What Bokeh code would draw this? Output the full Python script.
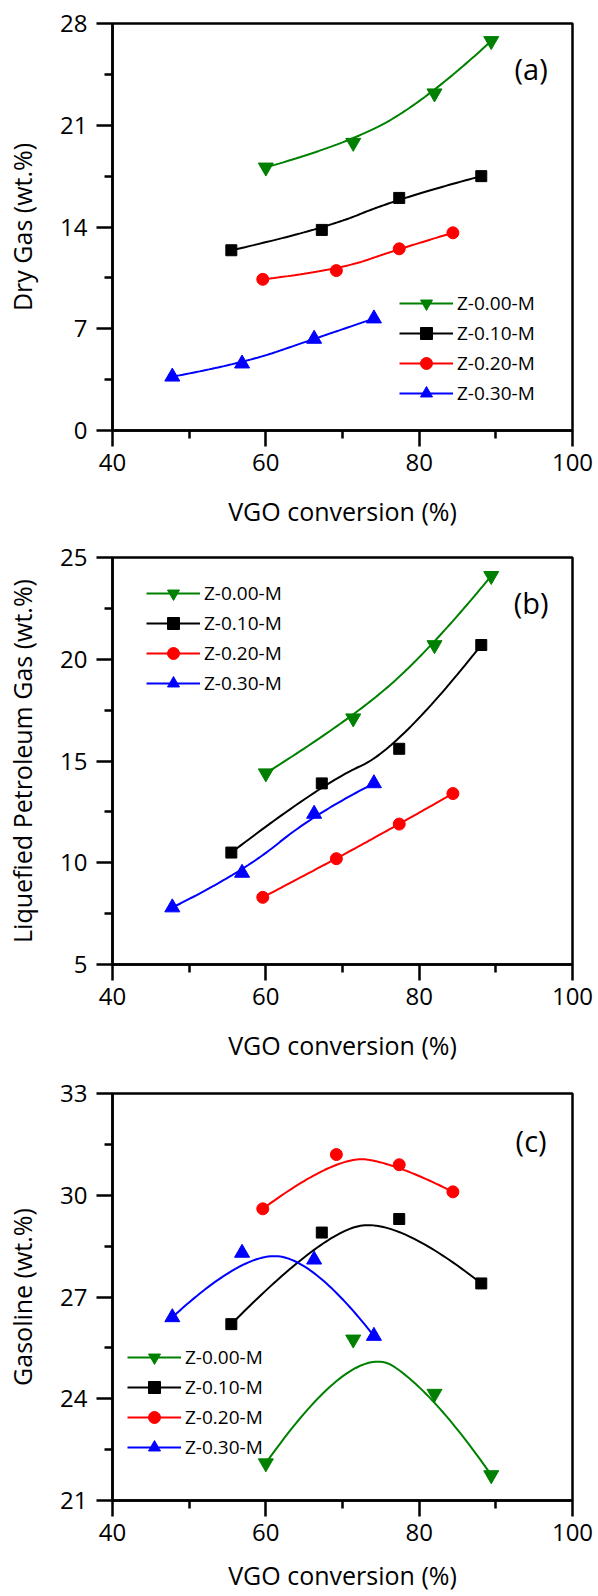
import numpy as np
from bokeh.plotting import figure
from bokeh.models import Range1d, FixedTicker, Legend, LegendItem, Label
from bokeh.layouts import column
from bokeh.embed import file_html
from bokeh.resources import INLINE

# ---------------- data ----------------
series_names = ["Z-0.00-M", "Z-0.10-M", "Z-0.20-M", "Z-0.30-M"]

conv_000 = [60.0, 71.4, 82.0, 89.4]
conv_010 = [55.5, 67.3, 77.4, 88.1]
conv_020 = [59.6, 69.2, 77.4, 84.4]
conv_030 = [47.8, 56.9, 66.3, 74.1]

drygas_000 = [18.1, 19.8, 23.2, 26.8]
drygas_010 = [12.4, 13.8, 16.0, 17.5]
drygas_020 = [10.4, 11.0, 12.5, 13.6]
drygas_030 = [3.7, 4.6, 6.3, 7.7]

lpg_000 = [14.4, 17.1, 20.7, 24.1]
lpg_010 = [10.5, 13.9, 15.6, 20.7]
lpg_020 = [8.3, 10.2, 11.9, 13.4]
lpg_030 = [7.8, 9.5, 12.4, 13.9]

gasoline_000 = [22.1, 25.75, 24.15, 21.75]
gasoline_010 = [26.2, 28.9, 29.3, 27.4]
gasoline_020 = [29.6, 31.2, 30.9, 30.1]
gasoline_030 = [26.4, 28.3, 28.1, 25.85]

x_ticks = [40, 60, 80, 100]
x_minor = [50, 70, 90]
drygas_ticks = [0, 7, 14, 21, 28]
lpg_ticks = [5, 10, 15, 20, 25]
gasoline_ticks = [21, 24, 27, 30, 33]

# ---------------- styles ----------------
colors = ["#008000", "#000000", "#ff0000", "#0000ff"]
markers = ["inverted_triangle", "square", "circle", "triangle"]
msizes = [15, 11, 12, 15]
FONT = "Open Sans"


def bspline2(x, y, n=40):
    """Quadratic clamped B-spline using the data points as control points."""
    P = np.column_stack([x, y]).astype(float)
    k = len(P)
    t = np.linspace(0, 1, n)[:, None]
    parts = []
    for i in range(k - 2):
        a = P[0] if i == 0 else (P[i] + P[i + 1]) / 2
        c = P[k - 1] if i == k - 3 else (P[i + 1] + P[i + 2]) / 2
        b = P[i + 1]
        parts.append((1 - t) ** 2 * a + 2 * t * (1 - t) * b + t ** 2 * c)
    pts = np.vstack(parts)
    return pts[:, 0], pts[:, 1]


def make_panel(ylabel, yticks, xs_list, ys_list, legend_loc, tag, tag_y,
               border_top, border_bottom, xlabel_standoff):
    yr = Range1d(yticks[0], yticks[-1])
    p = figure(frame_width=460, frame_height=407, x_range=Range1d(40, 100), y_range=yr,
               output_backend="svg", toolbar_location=None,
               min_border_left=112, min_border_right=24,
               min_border_top=border_top, min_border_bottom=border_bottom)
    p.grid.visible = False
    p.outline_line_color = "black"
    p.outline_line_width = 2.5
    p.outline_line_alpha = 1.0

    step = yticks[1] - yticks[0]
    yminor = [t + step / 2 for t in yticks[:-1]]
    p.xaxis.ticker = FixedTicker(ticks=x_ticks, minor_ticks=x_minor)
    p.yaxis.ticker = FixedTicker(ticks=yticks, minor_ticks=yminor)

    for ax in (p.xaxis, p.yaxis):
        ax.axis_line_width = 2.5
        ax.axis_line_color = "black"
        ax.major_tick_line_width = 2.5
        ax.minor_tick_line_width = 2.5
        ax.major_tick_line_color = "black"
        ax.minor_tick_line_color = "black"
        ax.major_tick_in = 0
        ax.major_tick_out = 16
        ax.minor_tick_in = 0
        ax.minor_tick_out = 8
        ax.major_label_text_font = FONT
        ax.major_label_text_font_size = "24px"
        ax.major_label_text_color = "black"
        ax.axis_label_text_font = FONT
        ax.axis_label_text_font_size = "25px"
        ax.axis_label_text_font_style = "normal"
        ax.axis_label_text_color = "black"
    p.xaxis.axis_label = "VGO conversion (%)"
    p.yaxis.axis_label = ylabel
    p.xaxis.major_label_standoff = 7
    p.xaxis.axis_label_standoff = xlabel_standoff
    p.yaxis.major_label_standoff = 9
    p.yaxis.axis_label_standoff = 18

    items = []
    for i in range(4):
        cx, cy = bspline2(xs_list[i], ys_list[i])
        lr = p.line(cx, cy, line_color=colors[i], line_width=2)
        sr = p.scatter(xs_list[i], ys_list[i], marker=markers[i], size=msizes[i],
                       fill_color=colors[i], line_color=colors[i], line_width=1)
        items.append(LegendItem(label=series_names[i], renderers=[lr, sr]))

    legend = Legend(items=items, location=legend_loc, orientation="vertical",
                    glyph_width=54, glyph_height=30, label_height=20, label_standoff=4,
                    spacing=0, padding=0, margin=0, border_line_alpha=0,
                    background_fill_alpha=0, label_text_font=FONT,
                    label_text_font_size="19px", label_text_color="black")
    p.add_layout(legend)

    p.add_layout(Label(x=94.6, y=tag_y, text=tag, text_align="center",
                       text_baseline="middle", text_font=FONT,
                       text_font_size="29px", text_color="black"))
    return p


conv = [conv_000, conv_010, conv_020, conv_030]

p1 = make_panel("Dry Gas (wt.%)", drygas_ticks, conv,
                [drygas_000, drygas_010, drygas_020, drygas_030],
                (287, 22), "(a)", 24.9, 23, 107, 20)
p2 = make_panel("Liquefied Petroleum Gas (wt.%)", lpg_ticks, conv,
                [lpg_000, lpg_010, lpg_020, lpg_030],
                (34, 266), "(b)", 22.8, 20, 109, 20)
p3 = make_panel("Gasoline (wt.%)", gasoline_ticks, conv,
                [gasoline_000, gasoline_010, gasoline_020, gasoline_030],
                (15, 38), "(c)", 31.6, 20, 96, 14)

layout = column(p1, p2, p3, spacing=0)
open("out.html", "w").write(file_html(layout, INLINE))
